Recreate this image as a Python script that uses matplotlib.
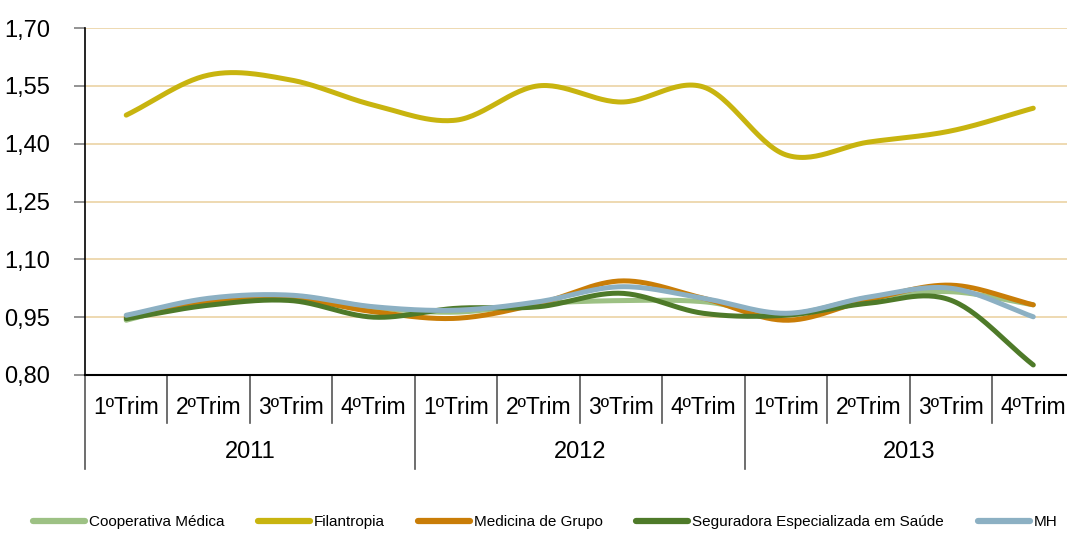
import numpy as np
import matplotlib.pyplot as plt
import matplotlib.transforms as mtransforms
from matplotlib import font_manager

# Data
quarters = ['1ºTrim', '2ºTrim', '3ºTrim', '4ºTrim'] * 3
years = ['2011', '2012', '2013']
cooperativa = [0.942, 0.995, 1.005, 0.975, 0.963, 0.985, 0.993, 0.990, 0.958, 1.000, 1.016, 0.982]
filantropia = [1.474, 1.578, 1.565, 1.500, 1.461, 1.550, 1.508, 1.547, 1.371, 1.404, 1.433, 1.492]
medicina = [0.950, 0.990, 0.999, 0.964, 0.947, 0.985, 1.044, 0.999, 0.942, 0.995, 1.033, 0.982]
seguradora = [0.946, 0.981, 0.993, 0.950, 0.973, 0.977, 1.012, 0.960, 0.955, 0.986, 0.994, 0.826]
mh = [0.955, 0.999, 1.007, 0.977, 0.968, 0.990, 1.029, 0.999, 0.960, 1.002, 1.025, 0.951]

series = [
    ('Cooperativa Médica', cooperativa, '#9dc184'),
    ('Filantropia', filantropia, '#c8b40f'),
    ('Medicina de Grupo', medicina, '#c97d07'),
    ('Seguradora Especializada em Saúde', seguradora, '#4e7a29'),
    ('MH', mh, '#8cb0c3'),
]

names = {f.name for f in font_manager.fontManager.ttflist}
family = 'Liberation Sans Narrow' if 'Liberation Sans Narrow' in names else 'Liberation Sans'
plt.rcParams['font.family'] = [family, 'DejaVu Sans']


def smooth(y, n=30):
    # Catmull-Rom curve through the points, like Excel's smoothed line
    y = np.asarray(y, dtype=float)
    x = np.arange(len(y), dtype=float)
    px = np.concatenate([[2 * x[0] - x[1]], x, [2 * x[-1] - x[-2]]])
    py = np.concatenate([[2 * y[0] - y[1]], y, [2 * y[-1] - y[-2]]])
    xs, ys = [], []
    for i in range(1, len(px) - 2):
        t = np.linspace(0, 1, n, endpoint=False)
        for arr, out in ((px, xs), (py, ys)):
            p0, p1, p2, p3 = arr[i - 1], arr[i], arr[i + 1], arr[i + 2]
            out.append(0.5 * (2 * p1 + (-p0 + p2) * t + (2 * p0 - 5 * p1 + 4 * p2 - p3) * t ** 2
                              + (-p0 + 3 * p1 - 3 * p2 + p3) * t ** 3))
    xs.append([x[-1]])
    ys.append([y[-1]])
    return np.concatenate(xs), np.concatenate(ys)


fig = plt.figure(figsize=(10.67, 5.33), dpi=100)
ax = fig.add_axes([85 / 1067, 1 - 375 / 533, (1074.5 - 85) / 1067, 347 / 533])

for label, vals, color in series:
    sx, sy = smooth(vals)
    ax.plot(sx, sy, color=color, lw=3.6, solid_capstyle='round', label=label)

ax.set_xlim(-0.5, 11.5)
ax.set_ylim(0.80, 1.70)
yticks = np.arange(0.80, 1.701, 0.15)
ax.set_yticks(yticks)
ax.set_yticklabels([f'{v:.2f}'.replace('.', ',') for v in yticks], fontsize=17)
ax.tick_params(axis='y', length=8, width=1.2, color='#808080', pad=17)
ax.yaxis.grid(True, color='#ebd3a4', lw=1.2)
ax.set_axisbelow(True)
ax.set_xticks([])
for s in ['top', 'right']:
    ax.spines[s].set_visible(False)
ax.spines['left'].set_linewidth(1.2)
ax.spines['bottom'].set_linewidth(1.5)

# category axis with two levels
trans = mtransforms.blended_transform_factory(ax.transData, ax.transAxes)
h = 347.0
for i in range(len(quarters) + 1):
    bottom = -94 / h if i % 4 == 0 else -48 / h
    ax.plot([i - 0.5, i - 0.5], [0, bottom], transform=trans, color='#555555',
            lw=1.2, clip_on=False)
for i, q in enumerate(quarters):
    ax.text(i, -32 / h, q, transform=trans, ha='center', va='center', fontsize=16.5)
for j, yr in enumerate(years):
    ax.text(j * 4 + 1.5, -77 / h, yr, transform=trans, ha='center', va='center', fontsize=17)

leg = fig.legend(loc='center', bbox_to_anchor=(545 / 1067, 1 - 522 / 533), ncol=5,
                 frameon=False, fontsize=11, handlelength=3.4, handletextpad=0.25,
                 columnspacing=2.2, borderaxespad=0)
for line in leg.get_lines():
    line.set_linewidth(4.5)

fig.savefig('out.png', dpi=100)
